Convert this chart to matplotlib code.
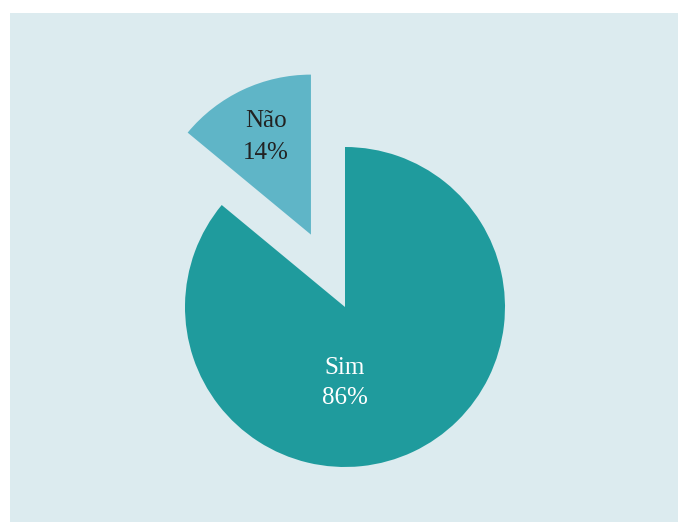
import matplotlib
matplotlib.use("Agg")
import matplotlib.pyplot as plt
from matplotlib.patches import Rectangle

categories = ["Sim", "Não"]
values = [86, 14]
pct_labels = ["86%", "14%"]
colors = ["#1F9B9D", "#5FB5C7"]
text_colors = ["white", "#222222"]

W, H = 678, 522
fig = plt.figure(figsize=(W / 100, H / 100), dpi=100)
fig.patch.set_facecolor("white")
ax = fig.add_axes([0, 0, 1, 1])
ax.set_xlim(0, W)
ax.set_ylim(0, H)
ax.axis("off")

# background panel
ax.add_patch(Rectangle((10, 0), W - 10, H - 13, facecolor="#DCEBEF", edgecolor="none", zorder=0))

cx, cy, r = 345, H - 307, 160
# explode is in data units (pixels here)
wedges, _ = ax.pie(values, colors=colors, startangle=90, counterclock=False,
                   radius=r, center=(cx, cy), explode=[0, 80],
                   wedgeprops=dict(linewidth=0), frame=True)
ax.set_xlim(0, W)
ax.set_ylim(0, H)
ax.set_aspect("equal")
ax.axis("off")

font = dict(family=["Liberation Serif", "DejaVu Serif"], fontsize=18, ha="center", va="baseline")
# Sim label
ax.text(345, H - 374, categories[0], color=text_colors[0], **font)
ax.text(345, H - 404, pct_labels[0], color=text_colors[0], **font)
# Não label
ax.text(266.5, H - 127, categories[1], color=text_colors[1], **font)
ax.text(266, H - 159, pct_labels[1], color=text_colors[1], **font)

fig.savefig("out.png", dpi=100, facecolor="white")
